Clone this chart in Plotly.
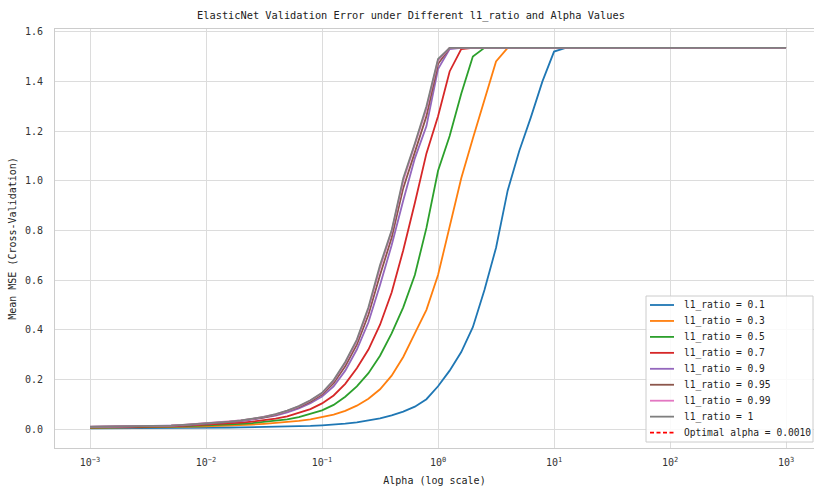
import numpy as np
import plotly.graph_objects as go

# Alpha grid used for cross-validation (log10 exponents, 0.1 decade steps)
log_alpha = [round(-3 + 0.1 * i, 1) for i in range(61)]
alphas = [10 ** v for v in log_alpha]

l1_ratios = ["0.1", "0.3", "0.5", "0.7", "0.9", "0.95", "0.99", "1"]
optimal_alpha = 0.0010

mse_l1_01 = [
    0.003, 0.003, 0.0031, 0.0032, 0.0033, 0.0035, 0.0037, 0.0039, 0.0042, 0.0045,
    0.0049, 0.0054, 0.006, 0.0066, 0.0073, 0.008, 0.0089, 0.0099, 0.011, 0.0125,
    0.015, 0.018, 0.022, 0.027, 0.034, 0.043, 0.055, 0.070, 0.090, 0.120,
    0.172, 0.235, 0.310, 0.410, 0.560, 0.730, 0.960, 1.120, 1.255, 1.400,
    1.520, 1.535, 1.535, 1.535, 1.535, 1.535, 1.535, 1.535, 1.535, 1.535,
    1.535, 1.535, 1.535, 1.535, 1.535, 1.535, 1.535, 1.535, 1.535, 1.535,
    1.535,
]
mse_l1_03 = [
    0.005, 0.0052, 0.0054, 0.0056, 0.0059, 0.0063, 0.0068, 0.0075, 0.0083, 0.0093,
    0.0105, 0.012, 0.0135, 0.0155, 0.018, 0.021, 0.0245, 0.028, 0.033, 0.039,
    0.047, 0.058, 0.073, 0.094, 0.122, 0.160, 0.215, 0.290, 0.385, 0.480,
    0.620, 0.820, 1.010, 1.170, 1.330, 1.480, 1.535, 1.535, 1.535, 1.535,
    1.535, 1.535, 1.535, 1.535, 1.535, 1.535, 1.535, 1.535, 1.535, 1.535,
    1.535, 1.535, 1.535, 1.535, 1.535, 1.535, 1.535, 1.535, 1.535, 1.535,
    1.535,
]
mse_l1_05 = [
    0.006, 0.0062, 0.0065, 0.0068, 0.0072, 0.0077, 0.0085, 0.0095, 0.011, 0.0125,
    0.014, 0.016, 0.018, 0.021, 0.024, 0.028, 0.033, 0.039, 0.048, 0.060,
    0.075, 0.097, 0.130, 0.172, 0.225, 0.295, 0.385, 0.490, 0.620, 0.810,
    1.040, 1.180, 1.350, 1.500, 1.535, 1.535, 1.535, 1.535, 1.535, 1.535,
    1.535, 1.535, 1.535, 1.535, 1.535, 1.535, 1.535, 1.535, 1.535, 1.535,
    1.535, 1.535, 1.535, 1.535, 1.535, 1.535, 1.535, 1.535, 1.535, 1.535,
    1.535,
]
mse_l1_07 = [
    0.007, 0.0073, 0.0077, 0.008, 0.0085, 0.009, 0.010, 0.011, 0.013, 0.015,
    0.017, 0.019, 0.022, 0.026, 0.030, 0.035, 0.042, 0.051, 0.064, 0.080,
    0.103, 0.135, 0.182, 0.245, 0.320, 0.420, 0.550, 0.720, 0.910, 1.110,
    1.260, 1.440, 1.530, 1.535, 1.535, 1.535, 1.535, 1.535, 1.535, 1.535,
    1.535, 1.535, 1.535, 1.535, 1.535, 1.535, 1.535, 1.535, 1.535, 1.535,
    1.535, 1.535, 1.535, 1.535, 1.535, 1.535, 1.535, 1.535, 1.535, 1.535,
    1.535,
]
mse_l1_09 = [
    0.008, 0.0085, 0.009, 0.0095, 0.010, 0.011, 0.012, 0.013, 0.015, 0.018,
    0.021, 0.024, 0.028, 0.032, 0.038, 0.045, 0.054, 0.067, 0.083, 0.104,
    0.131, 0.172, 0.235, 0.320, 0.430, 0.580, 0.740, 0.920, 1.090, 1.220,
    1.450, 1.530, 1.535, 1.535, 1.535, 1.535, 1.535, 1.535, 1.535, 1.535,
    1.535, 1.535, 1.535, 1.535, 1.535, 1.535, 1.535, 1.535, 1.535, 1.535,
    1.535, 1.535, 1.535, 1.535, 1.535, 1.535, 1.535, 1.535, 1.535, 1.535,
    1.535,
]
mse_l1_095 = [
    0.0085, 0.009, 0.0095, 0.010, 0.0105, 0.0115, 0.0125, 0.0135, 0.016, 0.019,
    0.022, 0.025, 0.029, 0.034, 0.040, 0.047, 0.057, 0.071, 0.088, 0.110,
    0.139, 0.185, 0.253, 0.340, 0.460, 0.620, 0.770, 0.970, 1.120, 1.260,
    1.470, 1.535, 1.535, 1.535, 1.535, 1.535, 1.535, 1.535, 1.535, 1.535,
    1.535, 1.535, 1.535, 1.535, 1.535, 1.535, 1.535, 1.535, 1.535, 1.535,
    1.535, 1.535, 1.535, 1.535, 1.535, 1.535, 1.535, 1.535, 1.535, 1.535,
    1.535,
]
mse_l1_099 = [
    0.009, 0.0095, 0.010, 0.0105, 0.011, 0.012, 0.013, 0.014, 0.0168, 0.0198,
    0.0228, 0.0258, 0.0297, 0.0346, 0.0406, 0.0485, 0.0594, 0.0733, 0.0911, 0.1148,
    0.144, 0.194, 0.266, 0.355, 0.483, 0.650, 0.795, 1.000, 1.145, 1.290,
    1.485, 1.535, 1.535, 1.535, 1.535, 1.535, 1.535, 1.535, 1.535, 1.535,
    1.535, 1.535, 1.535, 1.535, 1.535, 1.535, 1.535, 1.535, 1.535, 1.535,
    1.535, 1.535, 1.535, 1.535, 1.535, 1.535, 1.535, 1.535, 1.535, 1.535,
    1.535,
]
mse_l1_1 = [
    0.009, 0.0095, 0.010, 0.0105, 0.011, 0.012, 0.013, 0.014, 0.017, 0.020,
    0.023, 0.026, 0.030, 0.035, 0.041, 0.049, 0.060, 0.074, 0.092, 0.116,
    0.146, 0.197, 0.270, 0.360, 0.490, 0.660, 0.800, 1.010, 1.150, 1.300,
    1.490, 1.535, 1.535, 1.535, 1.535, 1.535, 1.535, 1.535, 1.535, 1.535,
    1.535, 1.535, 1.535, 1.535, 1.535, 1.535, 1.535, 1.535, 1.535, 1.535,
    1.535, 1.535, 1.535, 1.535, 1.535, 1.535, 1.535, 1.535, 1.535, 1.535,
    1.535,
]

mse_series = [mse_l1_01, mse_l1_03, mse_l1_05, mse_l1_07,
              mse_l1_09, mse_l1_095, mse_l1_099, mse_l1_1]
colors = ["#1f77b4", "#ff7f0e", "#2ca02c", "#d62728",
          "#9467bd", "#8c564b", "#e377c2", "#7f7f7f"]

x_ticks = [1e-3, 1e-2, 1e-1, 1e0, 1e1, 1e2, 1e3]
x_tick_text = ["10<sup>−3</sup>", "10<sup>−2</sup>", "10<sup>−1</sup>", "10<sup>0</sup>",
               "10<sup>1</sup>", "10<sup>2</sup>", "10<sup>3</sup>"]
y_ticks = [0.0, 0.2, 0.4, 0.6, 0.8, 1.0, 1.2, 1.4, 1.6]

FONT = "DejaVu Sans Mono"
GRID = "#dcdcdc"
VLINE = dict(color="red", width=1.8, dash="6px,3px")

# Figure / plot-area geometry in pixels (used to place the drawn legend box)
W, H = 814, 488
M_L, M_R, M_T, M_B = 55, 0, 29, 40
PW, PH = W - M_L - M_R, H - M_T - M_B


def px_x(p):
    return (p - M_L) / PW


def px_y(p):
    return (H - M_B - p) / PH


fig = go.Figure()
for ratio, mse, col in zip(l1_ratios, mse_series, colors):
    fig.add_trace(go.Scatter(
        x=alphas, y=mse, mode="lines", name=f"l1_ratio = {ratio}",
        line=dict(color=col, width=1.8), showlegend=False,
    ))

# Optimal alpha marker: vertical dashed line over the full plot height
fig.add_shape(type="line", xref="x", yref="paper",
              x0=np.log10(optimal_alpha), x1=np.log10(optimal_alpha), y0=0, y1=1,
              line=VLINE, layer="above")

# Legend drawn as a framed box in the lower right corner
legend_labels = [f"l1_ratio = {r}" for r in l1_ratios] + [f"Optimal alpha = {optimal_alpha:.4f}"]
legend_styles = [dict(color=c, width=1.8) for c in colors] + [dict(color="red", width=1.8, dash="4px,2.5px")]
box_l, box_r, box_t, box_b = 646, 813, 296, 442
fig.add_shape(type="rect", xref="paper", yref="paper",
              x0=px_x(box_l), x1=px_x(box_r), y0=px_y(box_b), y1=px_y(box_t),
              line=dict(color="#cccccc", width=1), fillcolor="rgba(255,255,255,0.85)",
              layer="above")
row0, row_step = 305, 15.95
for i, (label, style) in enumerate(zip(legend_labels, legend_styles)):
    yc = row0 + i * row_step
    fig.add_shape(type="line", xref="paper", yref="paper",
                  x0=px_x(650), x1=px_x(674), y0=px_y(yc), y1=px_y(yc),
                  line=style, layer="above")
    fig.add_annotation(text=label, xref="paper", yref="paper",
                       x=px_x(682), y=px_y(yc), xanchor="left", yanchor="middle",
                       showarrow=False,
                       font=dict(family=FONT, size=9.6, color="#222222"))

fig.update_layout(
    width=W, height=H,
    margin=dict(l=M_L, r=M_R, t=M_T, b=M_B),
    paper_bgcolor="white", plot_bgcolor="white",
    font=dict(family=FONT, size=10, color="#333333"),
    title=dict(text="ElasticNet Validation Error under Different l1_ratio and Alpha Values",
               x=0.469, xref="paper", xanchor="center",
               y=1 - 15 / H, yref="container", yanchor="middle",
               font=dict(family=FONT, size=10.3, color="#222222")),
    showlegend=False,
)
fig.update_xaxes(
    type="log", range=[-3.302, 3.241],
    tickvals=x_ticks, ticktext=x_tick_text, ticks="", ticklabelstandoff=5,
    showgrid=True, gridcolor=GRID, gridwidth=1, zeroline=False,
    showline=True, linecolor="#cccccc", linewidth=1, mirror=True,
    tickfont=dict(family=FONT, size=10, color="#333333"),
    title=dict(text="Alpha (log scale)", standoff=9,
               font=dict(family=FONT, size=10, color="#222222")),
)
fig.update_yaxes(
    range=[-0.0765, 1.611], tickvals=y_ticks,
    tickformat=".1f", ticks="", ticklabelstandoff=9,
    showgrid=True, gridcolor=GRID, gridwidth=1, zeroline=False,
    showline=True, linecolor="#cccccc", linewidth=1,
    tickfont=dict(family=FONT, size=10, color="#333333"),
    title=dict(text="Mean MSE (Cross-Validation)", standoff=6,
               font=dict(family=FONT, size=10, color="#222222")),
)

fig.write_html("out.html")
